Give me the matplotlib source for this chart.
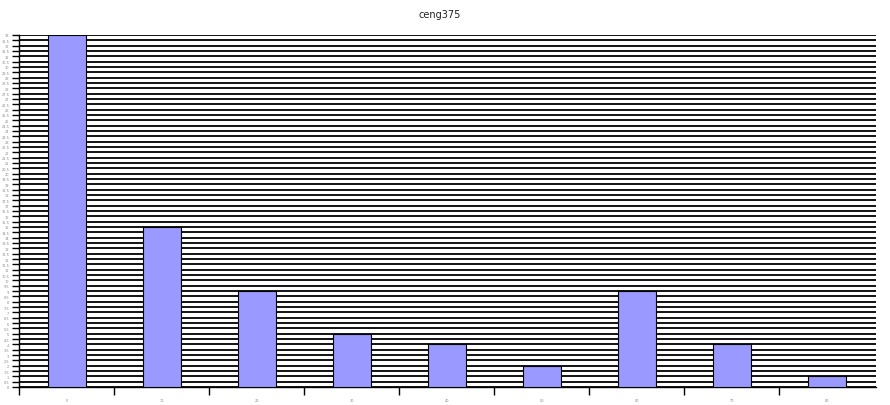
import matplotlib
matplotlib.use("Agg")
import matplotlib.pyplot as plt
import numpy as np

# data
labels = ["0", "10", "20", "30", "40", "50", "60", "70", "80"]
counts = [33, 15, 9, 5, 4, 2, 9, 4, 1]
title = "ceng375"

fig = plt.figure(figsize=(8.9, 4.06), dpi=100)
ax = fig.add_axes([19/890, 1-388/406, (876-19)/890, (388-36)/406])

x = np.arange(len(labels))
ax.bar(x, counts, width=0.4, color="#9999ff", edgecolor="black", linewidth=0.8, zorder=3)

ax.set_xlim(-0.5, 8.52)
ax.set_ylim(0, 33)

yt = np.arange(0, 33.01, 0.5)
ax.set_yticks(yt)
ax.set_yticklabels([("%g" % v) for v in yt], fontsize=2.5, color="#888888")
ax.yaxis.grid(True, color="black", linewidth=1.3, zorder=0)
ax.tick_params(axis="y", length=5, width=1, pad=2)

# labels at bar centres, tick marks at category boundaries
ax.set_xticks(x)
ax.set_xticklabels(labels, fontsize=2.5, color="#888888")
ax.tick_params(axis="x", which="major", length=0, pad=8)
ax.set_xticks(x - 0.5, minor=True)
ax.tick_params(axis="x", which="minor", length=6, width=1)

for s in ["top", "right"]:
    ax.spines[s].set_visible(False)
ax.spines["left"].set_linewidth(1)
ax.spines["bottom"].set_linewidth(1)

fig.text(440/890, 1-15/406, title, ha="center", va="center", fontsize=7, color="#222222")

fig.savefig("out.png", dpi=100)
